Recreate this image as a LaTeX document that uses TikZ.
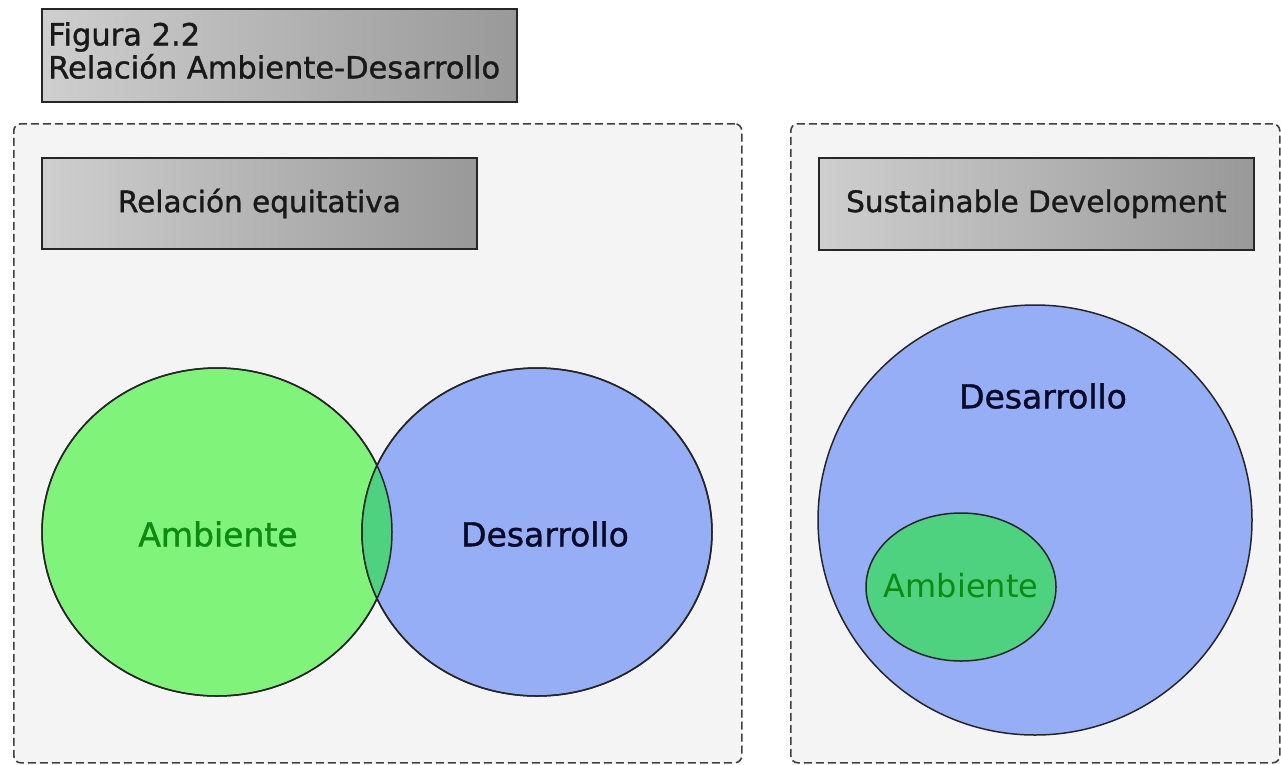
\documentclass[tikz,border=0pt]{standalone}
\usepackage{fontspec}
\setmainfont{DejaVu Sans}
\newfontfamily\heavyfont[FakeBold=1.2]{DejaVu Sans}
\usetikzlibrary{shapes.geometric}
\definecolor{panelfill}{HTML}{F4F4F4}
\definecolor{greenfill}{HTML}{80F47A}
\definecolor{bluefill}{HTML}{95AEF5}
\definecolor{lensfill}{HTML}{4FD27F}
\definecolor{greentext}{HTML}{0C8A12}
\definecolor{darktext}{HTML}{0A0A28}
\tikzset{
  panel/.style={draw=black!75, fill=panelfill, dash pattern=on 8pt off 4pt, line width=1.6pt, rounded corners=7pt},
  header/.style={draw=black!85, line width=1.8pt, left color=black!19, right color=black!40, inner sep=0pt},
  circ/.style={ellipse, draw=black!85, line width=1.5pt, inner sep=0pt},
  lbl/.style={font=\heavyfont\fontsize{29.5}{34}\selectfont},
  biglbl/.style={font=\heavyfont\fontsize{33}{38}\selectfont}
}
\begin{document}
\begin{tikzpicture}[x=1pt,y=-1pt]
\useasboundingbox (0,0) rectangle (1281,764);
\fill[white] (0,0) rectangle (1281,764);
% title
\node[header, minimum width=475pt, minimum height=93pt, anchor=north west] (title) at (41,8) {};
\node[anchor=north west, align=left, font=\heavyfont\fontsize{30.5}{33}\selectfont, inner sep=0pt, text=black!90] (titletext) at (48,22) {Figura 2.2\\Relación Ambiente-Desarrollo};
% panels
\node[panel, minimum width=728pt, minimum height=639pt, anchor=north west] (lpanel) at (13,123) {};
\node[panel, minimum width=489pt, minimum height=639pt, anchor=north west] (rpanel) at (790,123) {};
% headers
\node[header, minimum width=435pt, minimum height=91pt, anchor=north west, lbl, text=black!90] (lhead) at (41,157) {Relación equitativa};
\node[header, minimum width=435pt, minimum height=92pt, anchor=north west, lbl, text=black!90] (rhead) at (818,157) {Sustainable Development};
% left venn
\node[circ, fill=greenfill, minimum width=350pt, minimum height=328pt] (amb) at (217,532) {};
\node[circ, fill=bluefill, minimum width=350pt, minimum height=328pt] (des) at (537,532) {};
\begin{scope}
  \clip (217,532) ellipse [x radius=175, y radius=164];
  \fill[lensfill] (537,532) ellipse [x radius=175, y radius=164];
\end{scope}
\draw[black!85, line width=1.5pt] (217,532) ellipse [x radius=175, y radius=164];
\draw[black!85, line width=1.5pt] (537,532) ellipse [x radius=175, y radius=164];
\node[biglbl, text=greentext] (ambtext) at (218,534) {Ambiente};
\node[biglbl, text=darktext] (destext) at (545,534) {Desarrollo};
% right
\node[circ, fill=bluefill, minimum width=434pt, minimum height=430pt] (bigdes) at (1035,520) {};
\node[biglbl, text=darktext] (bigdestext) at (1043,396) {Desarrollo};
\node[circ, fill=lensfill, minimum width=190pt, minimum height=148pt] (smamb) at (961,587) {};
\node[font=\fontsize{32}{38}\selectfont, text=greentext] (smambtext) at (961,586) {Ambiente};
\end{tikzpicture}
\end{document}
